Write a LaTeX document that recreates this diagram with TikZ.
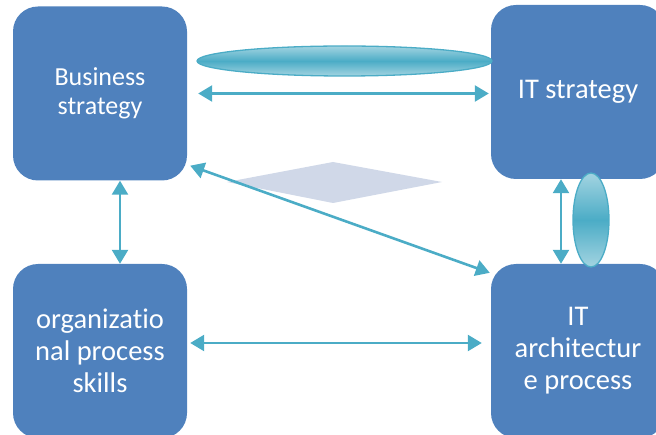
\documentclass[tikz,border=0pt]{standalone}
\usepackage{fontspec}
\setmainfont{Carlito}[RawFeature={-liga;-clig;-calt;-dlig}]
\usetikzlibrary{arrows.meta,shapes.geometric}

\definecolor{boxblue}{HTML}{4F81BD}
\definecolor{aqua}{HTML}{4BACC6}
\definecolor{paleaqua}{HTML}{A3D4E1}
\definecolor{diamondfill}{HTML}{D0D8E8}

\tikzset{
  box/.style={fill=boxblue, draw=none, rounded corners=25pt, text=white,
    align=center, minimum width=174pt, minimum height=174pt, inner sep=0pt},
  smalltext/.style={font=\fontsize{26}{28.5}\selectfont},
  bigtext/.style={font=\fontsize{28.5}{32}\selectfont},
  arr/.style={draw=aqua, line width=2.6pt,
    {Triangle[length=14pt,width=16pt]}-{Triangle[length=14pt,width=16pt]}},
  lens/.style={ellipse, draw=aqua, line width=1.3pt, inner sep=0pt,
    top color=paleaqua, bottom color=paleaqua, middle color=aqua}
}

\begin{document}
\begin{tikzpicture}[x=1pt,y=-1pt]
  \useasboundingbox (0,0) rectangle (656,435);
  \clip (0,0) rectangle (656,435);

  % faint diamond behind the diagonal link
  \fill[diamondfill] (227,182) -- (333,162) -- (442,182) -- (333,203) -- cycle;

  % the four blocks
  \node[box, smalltext] (bs)  at (100,93.5) {Business\\strategy};
  \node[box, bigtext]   (its) at (578,92)   {IT strategy};
  \node[box, bigtext]   (org) at (100,351)  {organizat\kern0pt io\\nal process\\skills};
  \node[box, bigtext]   (ita) at (578,351)  {IT\\architectur\\e process};

  % lens shapes marking the alignment links
  \node[lens, minimum width=295pt, minimum height=30pt] (lensh) at (344.5,61) {};
  \node[lens, minimum width=36pt, minimum height=94pt] (lensv) at (591,220) {};

  % two-way links
  \draw[arr] ([xshift=11pt]bs.east) -- ([xshift=-2pt]bs.east -| its.west);
  \draw[arr] ([xshift=20pt]bs.south) -- ([xshift=20pt]org.north);
  \draw[arr] ([shift={(3pt,8pt)}]org.east) -- ([shift={(-9pt,8pt)}]org.east -| ita.west);
  \draw[arr] ([shift={(3pt,15pt)}]bs.south east) -- ([shift={(-1pt,-9pt)}]ita.north west);
  \draw[arr] ([xshift=-17pt]its.south) -- ([xshift=-17pt]ita.north);
\end{tikzpicture}
\end{document}
